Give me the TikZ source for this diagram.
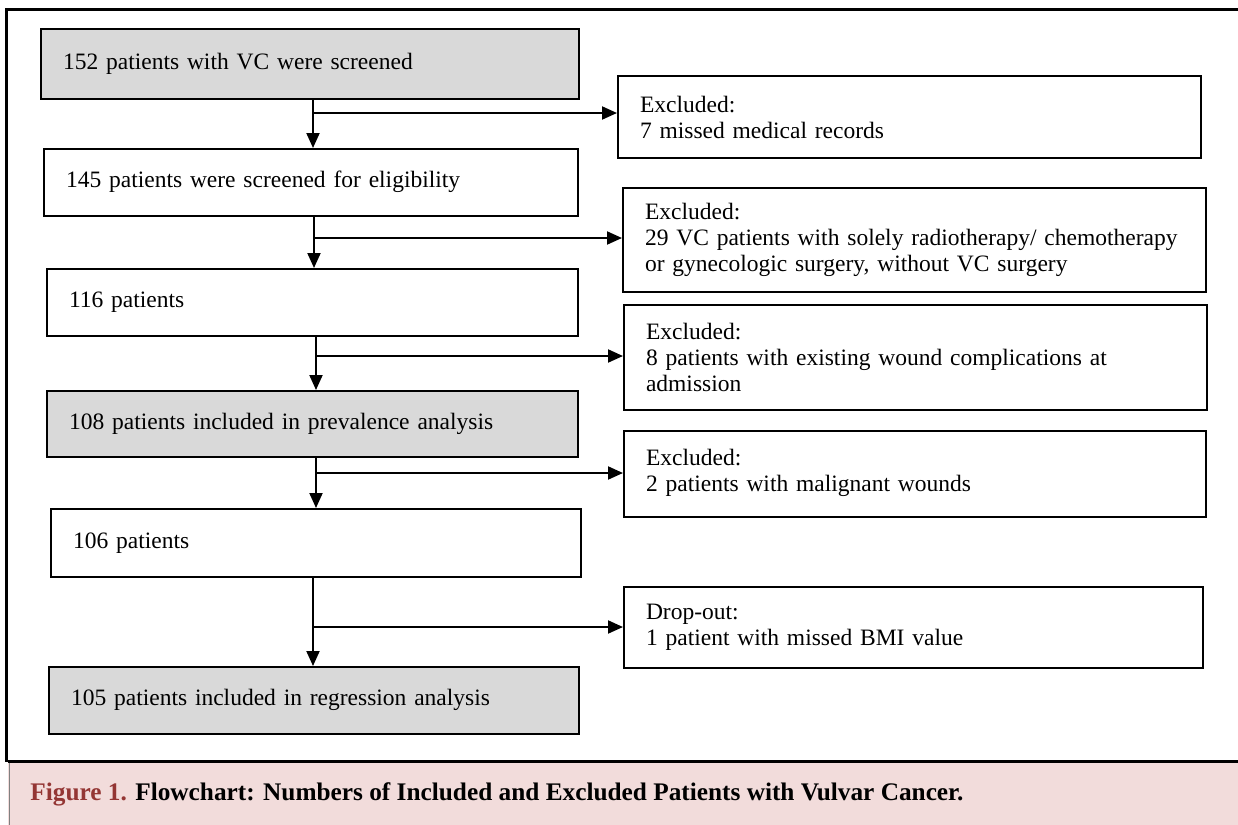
\documentclass[tikz,border=0pt]{standalone}
\usepackage{fontspec}
\setmainfont{Liberation Serif}
\usetikzlibrary{arrows.meta}
\definecolor{boxgray}{HTML}{D9D9D9}
\definecolor{cappink}{HTML}{F2DCDB}
\definecolor{capred}{HTML}{943634}
\hyphenpenalty=10000\relax
\begin{document}
\begin{tikzpicture}[x=0.5pt,y=-0.5pt,
  fbox/.style={draw=black, line width=1pt, anchor=north west, inner xsep=11pt, inner ysep=0pt,
    align=left, font=\fontsize{11.75}{13}\selectfont},
  grayfill/.style={fill=boxgray},
  arr/.style={line width=1pt, -{Triangle[width=6.5pt,length=7.5pt]}},
  frameline/.style={line width=1.5pt, black}]
\useasboundingbox (0,0) rectangle (1238,825);
% frame and caption band
\fill[cappink] (8,761) rectangle (1238,825);
\draw[line width=0.5pt, gray] (9,761) -- (9,825);
\draw[frameline] (8,761) -- (1238,761);
\draw[frameline] (6,8) -- (6,762);
\draw[frameline] (5,9) -- (1238,9);
% left column
\node[fbox, grayfill, minimum width=269pt, text width=247pt, minimum height=35pt] (n1) at (40,28) {\strut 152 patients with VC were screened};
\node[fbox, minimum width=267pt, text width=245pt, minimum height=33.5pt] (n2) at (43,148) {\strut 145 patients were screened for eligibility};
\node[fbox, minimum width=265.5pt, text width=243.5pt, minimum height=33.5pt] (n3) at (46,268) {\strut 116 patients};
\node[fbox, grayfill, minimum width=265.5pt, text width=243.5pt, minimum height=33pt] (n4) at (46,390) {\strut 108 patients included in prevalence analysis};
\node[fbox, minimum width=265pt, text width=243pt, minimum height=34pt] (n5) at (50,508) {\strut 106 patients};
\node[fbox, grayfill, minimum width=265pt, text width=243pt, minimum height=33.5pt] (n6) at (48,666) {\strut 105 patients included in regression analysis};
% right column
\node[fbox, minimum width=291.5pt, text width=269.5pt, minimum height=41pt] (a) at (617,75) {Excluded:\\7 missed medical records};
\node[fbox, minimum width=291.5pt, text width=269.5pt, minimum height=52pt] (b) at (622,187) {Excluded:\\29 VC patients with solely radiotherapy/ chemotherapy\\or gynecologic surgery, without VC surgery};
\node[fbox, minimum width=291.5pt, text width=269.5pt, minimum height=52.5pt] (c) at (623,304) {Excluded:\\8 patients with existing wound complications at\\admission};
\node[fbox, minimum width=291pt, text width=269pt, minimum height=43pt] (d) at (623,430) {Excluded:\\2 patients with malignant wounds\strut};
\node[fbox, minimum width=289.5pt, text width=267.5pt, minimum height=40.5pt] (e) at (623,586) {Drop-out:\\1 patient with missed BMI value};
% junctions
\coordinate (j1) at (313,113);
\coordinate (j2) at (314,238);
\coordinate (j3) at (316,356);
\coordinate (j4) at (316,473);
\coordinate (j5) at (313,627);
% connectors
\draw[arr] (j1 |- n1.south) -- (j1 |- n2.north);
\draw[arr] (j1) -- (j1 -| a.west);
\draw[arr] (j2 |- n2.south) -- (j2 |- n3.north);
\draw[arr] (j2) -- (j2 -| b.west);
\draw[arr] (j3 |- n3.south) -- (j3 |- n4.north);
\draw[arr] (j3) -- (j3 -| c.west);
\draw[arr] (j4 |- n4.south) -- (j4 |- n5.north);
\draw[arr] (j4) -- (j4 -| d.west);
\draw[arr] (j5 |- n5.south) -- (j5 |- n6.north);
\draw[arr] (j5) -- (j5 -| e.west);
% caption
\node[anchor=base west, inner sep=0pt, font=\bfseries\fontsize{12.65}{14}\selectfont] (cap) at (30,800)
  {\textcolor{capred}{Figure 1.} Flowchart: Numbers of Included and Excluded Patients with Vulvar Cancer.};
\end{tikzpicture}
\end{document}
